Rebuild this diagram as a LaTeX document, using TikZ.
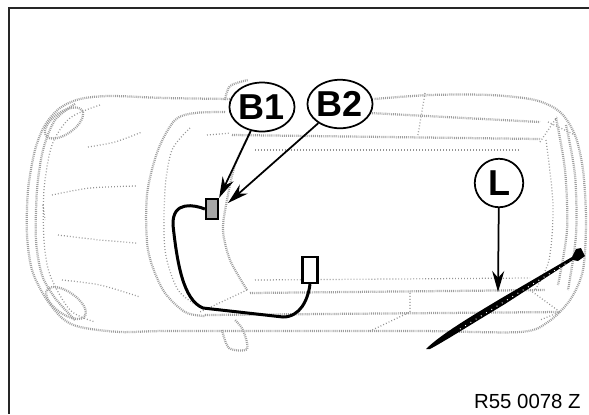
\documentclass[tikz,border=0pt]{standalone}
\usepackage{fontspec}
\setmainfont{Liberation Sans}
\usetikzlibrary{arrows.meta,shapes.geometric}
\tikzset{
	cardot/.style={draw=black!38, line width=0.45mm, dash pattern=on 0.5pt off 0.6pt},
	carfine/.style={draw=black!42, line width=0.25mm, dash pattern=on 0.5pt off 1.2pt},
	callout/.style={draw, line width=0.35mm, fill=white, font=\bfseries\fontsize{20.5}{20}\selectfont, inner sep=0pt},
	pointer/.style={line width=0.35mm, -{Stealth[length=4.2mm, width=2.4mm]}},
	plug/.style={draw, line width=0.45mm, inner sep=0pt}
}

\begin{document}
\begin{tikzpicture}[x=0.02cm, y=-0.02cm]
		%%%%% START %%%%%
		\useasboundingbox (0, 0) rectangle (589, 414);
		\fill[white] (0, 0) rectangle (589, 414);
		
		\draw[line width=0.5mm, color=black!85] (589, 8) -- (9, 8) -- (9, 414);
		
		% body
		\draw[cardot] plot[smooth] coordinates {(232, 99) (165, 98) (110, 96) (80, 99) (60, 108) (45, 125) (35, 150) (28, 190) (27, 235) (32, 270) (45, 297) (62, 318) (80, 327) (120, 332) (165, 331) (280, 331) (420, 331) (520, 332) (548, 322) (570, 300) (583, 270) (586, 220) (583, 170) (575, 135) (560, 112) (535, 100) (490, 95) (430, 95) (374, 99)};
		\draw[cardot] plot[smooth] coordinates {(75, 104) (55, 120) (43, 150) (37, 190) (36, 240) (42, 275) (55, 298) (75, 320)};
		\draw[carfine] plot[smooth] coordinates {(100, 105) (70, 118) (52, 145) (44, 190) (44, 240) (50, 275) (70, 310) (95, 322)};
		
		% lamps
		\draw[cardot] (64, 123) ellipse [x radius=22, y radius=11, rotate=35];
		\draw[cardot] (66, 303) ellipse [x radius=23, y radius=11, rotate=-35];
		\draw[carfine] (548, 122) -- (575, 135);
		
		% screen and roof
		\draw[cardot] plot[smooth] coordinates {(225, 112) (195, 113) (175, 120) (158, 150) (147, 195) (148, 250) (163, 290) (185, 312) (205, 316)};
		\draw[carfine] plot[smooth] coordinates {(190, 128) (172, 150) (165, 190) (165, 250) (178, 290) (200, 307)};
		\draw[cardot] plot[smooth] coordinates {(250, 133) (235, 165) (227, 200) (223, 230) (230, 260) (247, 290)};
		\draw[carfine] (207, 135) -- (230, 133);
		\draw[cardot] (232, 135) -- (540, 139);
		\draw[carfine] (255, 150) -- (520, 150);
		\draw[cardot] (250, 293) -- (545, 290);
		\draw[carfine] (255, 280) -- (530, 278);
		\draw[cardot] (370, 113) -- (540, 122);
		\draw[cardot] (205, 315) -- (560, 312);
		\draw[carfine] plot[smooth] coordinates {(546, 140) (553, 205) (549, 260) (535, 290)};
		\draw[cardot] plot[smooth] coordinates {(556, 118) (565, 170) (567, 230) (558, 285)};
		\draw[cardot] plot[smooth] coordinates {(566, 125) (575, 175) (576, 235) (568, 290)};
		
		% pillars and mirrors
		\draw[carfine] (247, 290) -- (200, 312);
		\draw[carfine] (425, 93) -- (418, 135);
		\draw[carfine] (410, 293) -- (410, 312) -- (368, 332);
		\draw[carfine] (540, 142) -- (557, 117);
		\draw[carfine] (530, 290) -- (560, 312) -- (540, 320);
		\draw[cardot] plot[smooth] coordinates {(222, 330) (229, 348) (247, 349) (243, 330) (235, 320)};
		\draw[cardot] plot[smooth] coordinates {(225, 100) (230, 86) (248, 80)};
		
		% bonnet
		\draw[carfine] plot[smooth] coordinates {(52, 195) (90, 188) (137, 186)};
		\draw[carfine] plot[smooth] coordinates {(58, 235) (100, 240) (137, 243)};
		\draw[carfine] plot[smooth] coordinates {(88, 147) (115, 142) (142, 132)};
		\draw[carfine] plot[smooth] coordinates {(62, 280) (100, 285) (140, 297)};
		\draw[carfine] (43, 205) -- (45, 220);
		
		% cable tie
		\fill (426, 349) .. controls (440, 335) and (470, 317) .. (500, 299) -- (572, 257) -- (576, 249) -- (581, 248) -- (585, 256) -- (578, 261) -- (573, 260) -- (505, 304) .. controls (475, 322) and (445, 341) .. (430, 349) -- cycle;
		\draw[line width=0.2mm, color=white, dash pattern=on 0.5pt off 3pt] (460, 329) -- (570, 261);
		
		\coordinate (tieTip) at (498, 292);
		\coordinate (wallTip) at (228, 203);
		
		% harness
		\node[plug, fill=black!35, minimum width=0.24cm, minimum height=0.4cm] (plugFront) at (212, 209) {};
		\node[plug, fill=white, minimum width=0.3cm, minimum height=0.52cm] (plugRear) at (310, 270) {};
		\draw[line width=0.6mm] (plugFront.west) .. controls (195, 205) and (172, 200) .. (173, 225) .. controls (177, 262) and (183, 300) .. (203, 308) -- (283, 317) .. controls (300, 317) and (308, 300) .. (plugRear.south);
		
		% labels
		\node[callout, ellipse, minimum width=1.27cm, minimum height=0.98cm] (calloutA) at (262, 107) {B1};
		\node[callout, ellipse, minimum width=1.29cm, minimum height=0.97cm] (calloutB) at (340, 104) {B2};
		\node[callout, circle, minimum size=0.97cm] (calloutL) at (499, 183) {L};
		\draw[pointer] (calloutA) -- (plugFront.north east);
		\draw[pointer] (calloutB) -- (wallTip);
		\draw[pointer] (calloutL) -- (tieTip);
		
		\node[anchor=base east, inner sep=0pt, font=\fontsize{11.6}{12}\selectfont] (figNumber) at (581, 408) {R55 0078 Z};
		
		%%%%% END %%%%%
	\end{tikzpicture}
\end{document}
